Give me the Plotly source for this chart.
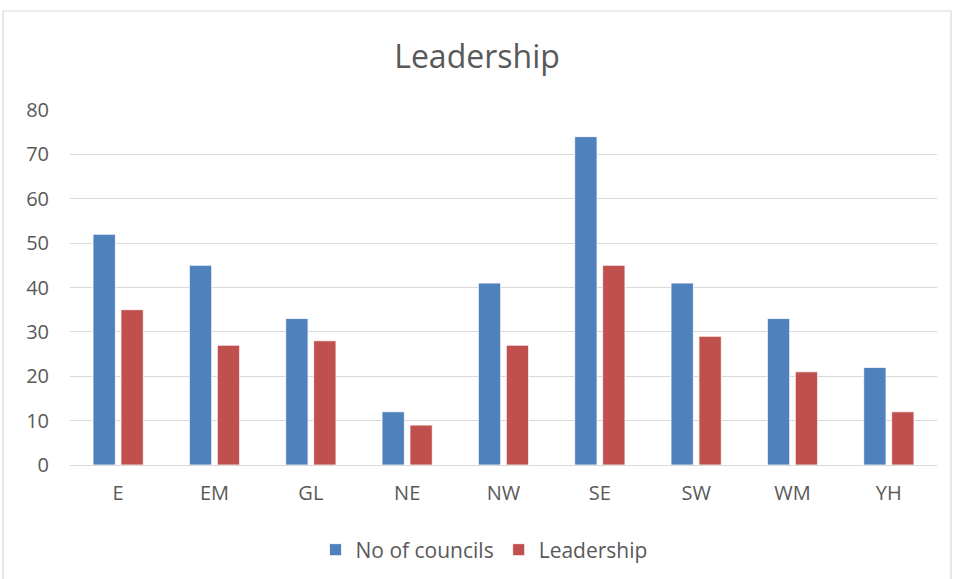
import plotly.graph_objects as go

categories = ["E", "EM", "GL", "NE", "NW", "SE", "SW", "WM", "YH"]
councils = [52, 45, 33, 12, 41, 74, 41, 33, 22]
leadership = [35, 27, 28, 9, 27, 45, 29, 21, 12]

W, H = 954, 579
L, R, T, B = 70, 17, 110, 114
pw, ph = W - L - R, H - T - B

fig = go.Figure()
fig.add_bar(x=categories, y=councils, name="No of councils",
            marker=dict(color="#4f81bd", line=dict(color="white", width=0.8)))
fig.add_bar(x=categories, y=leadership, name="Leadership",
            marker=dict(color="#c0504d", line=dict(color="white", width=0.8)))

fig.update_layout(
    width=W, height=H,
    margin=dict(l=L, r=R, t=T, b=B, autoexpand=False),
    paper_bgcolor="white", plot_bgcolor="white",
    barmode="group", bargap=0.42, bargroupgap=0.2,
    font=dict(family="Open Sans, Liberation Sans, sans-serif", color="#595959", size=20),
    title=dict(text="Leadership", x=0.5, xanchor="center", y=1 - 57 / H, yanchor="middle",
               font=dict(size=32, color="#595959")),
    legend=dict(orientation="h", x=(484 - L) / pw, xanchor="center", y=(H - B - 550) / ph,
                yanchor="middle", font=dict(size=21, color="#595959"), itemwidth=30,
                traceorder="normal"),
    showlegend=True,
)
fig.update_yaxes(range=[0, 80], dtick=10, showgrid=True, gridcolor="#d9d9d9", gridwidth=1,
                 zeroline=False, showline=False, ticks="", ticklen=0, ticklabelstandoff=20,
                 tickfont=dict(size=20, color="#595959"), fixedrange=True)
fig.update_xaxes(showline=True, linecolor="#d9d9d9", linewidth=1, ticks="", ticklabelstandoff=10,
                 tickfont=dict(size=20, color="#595959"))

# chart border
fig.add_shape(type="rect", xref="paper", yref="paper",
              x0=(3 - L) / pw, x1=(951 - L) / pw,
              y0=(H - B - 582) / ph, y1=(H - B - 11) / ph,
              line=dict(color="#d9d9d9", width=1.2), fillcolor="rgba(0,0,0,0)", layer="below")

fig.write_html("out.html", config={"displayModeBar": False},
               post_script="document.body.style.margin='0';document.body.style.overflow='hidden';")
